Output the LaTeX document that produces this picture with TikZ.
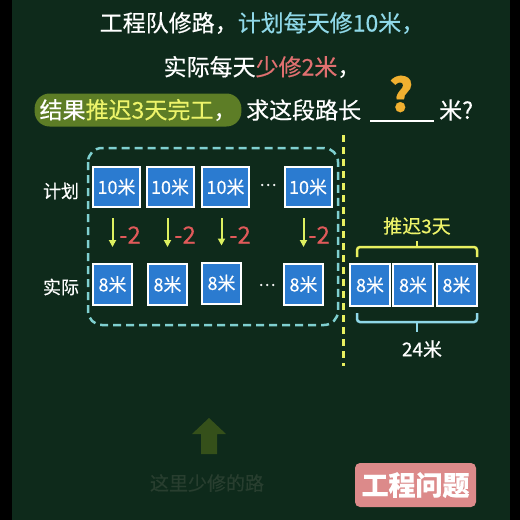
\documentclass[tikz,border=0pt]{standalone}
\usepackage{fontspec}
\setmainfont{Noto Sans CJK SC}[FakeBold=0.4]
\usetikzlibrary{arrows.meta}
\definecolor{bg}{HTML}{0E2A1B}
\definecolor{cyanT}{HTML}{8FD8E8}
\definecolor{redT}{HTML}{E07070}
\definecolor{minusR}{HTML}{E05A5A}
\definecolor{pill}{HTML}{5D7D26}
\definecolor{yelT}{HTML}{EEF46A}
\definecolor{qmark}{HTML}{F0B030}
\definecolor{boxblue}{HTML}{2B7BD0}
\definecolor{dashC}{HTML}{7FD0D0}
\definecolor{vline}{HTML}{E8F060}
\definecolor{arrY}{HTML}{DDF060}
\definecolor{faint}{HTML}{35501A}
\definecolor{faintT}{HTML}{283E2F}
\definecolor{badge}{HTML}{DC8A8A}
\tikzset{
  bx/.style={draw=white, line width=2pt, fill=boxblue, text=white, inner sep=0pt, font=\fontsize{18}{18}\selectfont},
  topbx/.style={bx, minimum width=47pt, minimum height=40pt},
  botbx/.style={bx, minimum width=39pt, minimum height=41pt},
  darr/.style={draw=arrY, line width=2pt, -{Triangle[length=7pt,width=7pt]}, shorten <=10pt, shorten >=16pt},
  minus/.style={text=minusR, font=\fontsize{24}{24}\selectfont, anchor=west, inner sep=1pt},
  lbl/.style={text=white, font=\fontsize{18}{18}\selectfont},
  big/.style={font=\fontsize{23}{23}\selectfont, text=white},
}
\begin{document}
\begin{tikzpicture}[x=1pt,y=-1pt]
\useasboundingbox (0,0) rectangle (520,520);
\fill[black] (0,0) rectangle (520,520);
\fill[bg] (12,0) rectangle (510,520);

% title lines
\node[big] (l1) at (262,23) {工程队修路，\textcolor{cyanT}{计划每天修10米，}};
\node[big] (l2) at (262,67) {实际每天\textcolor{redT}{少修2米}，};
\node[big, fill=pill, rounded corners=15pt, minimum height=33pt, inner xsep=5pt, inner ysep=0pt] (l3a) at (138,110) {结果\textcolor{yelT}{推迟3天完工}，};
\node[big, anchor=west, inner sep=0pt] (l3b) at (246,110) {求这段路长};
\coordinate (u1) at (370,121);
\coordinate (u2) at (434,121);
\draw[white, line width=1.5pt] (u1) -- (u2);
\node[big, anchor=west, inner sep=0pt] (l3c) at (439,110) {米?};
\node[text=qmark, font=\fontsize{46}{46}\bfseries\selectfont] (q) at (401,94) {?};

% dashed region
\draw[dashC, line width=2.5pt, dash pattern=on 8pt off 5pt, rounded corners=14pt] (88,148) rectangle (338,325);

% labels
\node[lbl] (plan) at (61,191) {计划};
\node[lbl] (act) at (61,287) {实际};

% top boxes
\node[topbx] (t1) at (116.5,187) {10米};
\node[topbx] (t2) at (170,187) {10米};
\node[topbx] (t3) at (225.5,187) {10米};
\node[topbx] (t4) at (308,187) {10米};
\node[text=white, font=\fontsize{16}{16}\selectfont] (td) at (268,185) {…};

% bottom boxes
\node[botbx] (b1) at (112.5,284.5) {8米};
\node[botbx] (b2) at (167.5,284.5) {8米};
\node[botbx] (b3) at (221.5,283) {8米};
\node[botbx] (b4) at (303.5,284.5) {8米};
\node[text=white, font=\fontsize{16}{16}\selectfont] (bd) at (267,285) {…};

% arrows
\draw[darr] (b1.north |- t1.south) -- (b1.north);
\draw[darr] (b2.north |- t2.south) -- (b2.north);
\draw[darr] (b3.north |- t3.south) -- (b3.north);
\draw[darr] (b4.north |- t4.south) -- (b4.north);
\node[minus] (m1) at (118,235) {-2};
\node[minus] (m2) at (173,235) {-2};
\node[minus] (m3) at (228,235) {-2};
\node[minus] (m4) at (307,235) {-2};

% vertical dashed line
\coordinate (v1) at (343,135);
\coordinate (v2) at (343,366);
\draw[vline, line width=3pt, dash pattern=on 7pt off 5pt] (v1) -- (v2);

% right part
\node[botbx, minimum width=40pt, minimum height=42pt] (r1) at (370,285) {8米};
\node[botbx, minimum width=40pt, minimum height=42pt] (r2) at (413,285) {8米};
\node[botbx, minimum width=40pt, minimum height=42pt] (r3) at (456.5,285) {8米};
\draw[vline, line width=2.5pt, rounded corners=3pt] (357,257) -- (357,247) -- (477,247) -- (477,257);
\draw[vline, line width=2.5pt] (417,247) -- (417,241);
\node[text=yelT, font=\fontsize{19}{19}\selectfont] (delay) at (417,226) {推迟3天};
\draw[cyanT, line width=2.5pt, rounded corners=3pt] (357,313) -- (357,322) -- (477,322) -- (477,313);
\draw[cyanT, line width=2.5pt] (417,322) -- (417,332);
\node[text=white, font=\fontsize{19}{19}\selectfont] (len) at (422,349) {24米};

% bottom faint arrow and text
\fill[faint] (209,418) -- (226,434) -- (217,434) -- (217,454) -- (201,454) -- (201,434) -- (192,434) -- cycle;
\node[text=faintT, font=\fontsize{19}{19}\selectfont] (less) at (207,483) {这里少修的路};

% badge
\node[fill=badge, rounded corners=5pt, text=white, font=\fontsize{27}{27}\bfseries\selectfont, minimum width=121pt, minimum height=44pt, inner sep=0pt] (bg1) at (415.5,485) {工程问题};
\end{tikzpicture}
\end{document}
